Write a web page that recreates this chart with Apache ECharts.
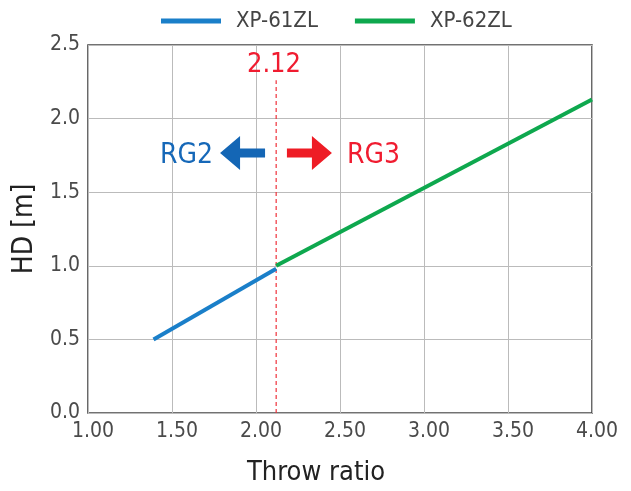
<!DOCTYPE html>
<html><head><meta charset="utf-8">
<script src="https://cdn.jsdelivr.net/npm/echarts@6/dist/echarts.min.js"></script>
<style>html,body{margin:0;padding:0;background:#fff}#c{width:631px;height:491px}</style>
</head><body><div id="c"></div>
<script>
const seriesNames = ['XP-61ZL', 'XP-62ZL'];
const xp61 = [[1.39, 0.50], [2.12, 0.98]];
const xp62 = [[2.12, 1.00], [4.00, 2.13]];
const boundary = 2.12;
const xTicks = [1.0, 1.5, 2.0, 2.5, 3.0, 3.5, 4.0];
const yTicks = [0.0, 0.5, 1.0, 1.5, 2.0, 2.5];

const FONT = '"DejaVu Sans Condensed","Liberation Sans Narrow","Liberation Sans",sans-serif';
const chart = echarts.init(document.getElementById('c'));
const arrowLeft = 'path://M0,17 L20,0 L20,12.5 L45,12.5 L45,21.5 L20,21.5 L20,34 Z';
const arrowRight = 'path://M45,17 L25,0 L25,12.5 L0,12.5 L0,21.5 L25,21.5 L25,34 Z';
const TICK = '#4a4a4a';
chart.setOption({
  animation: false,
  textStyle: {fontFamily: FONT},
  legend: {
    top: 5, left: 156, itemWidth: 60, itemHeight: 5, itemGap: 37,
    icon: 'rect',
    data: seriesNames,
    textStyle: {fontSize: 22, color: '#444', fontFamily: FONT, padding: [0, 0, 0, 10]}
  },
  grid: {left: 88, right: 39, top: 45, bottom: 78, show: true, borderColor: '#444', borderWidth: 1.6,
         containLabel: false, outerBoundsMode: 'none'},
  xAxis: {
    type: 'value', min: xTicks[0], max: xTicks[xTicks.length-1], interval: 0.5,
    name: 'Throw ratio', nameLocation: 'middle', nameGap: 46,
    nameTextStyle: {fontSize: 27, color: '#222', fontFamily: FONT, padding: [0, 48, 0, 0]},
    axisLine: {show: false}, axisTick: {show: false},
    axisLabel: {formatter: v => v.toFixed(2), fontSize: 21, color: TICK, margin: 8, fontFamily: FONT, padding: [0, 0, 0, 10]},
    splitLine: {show: true, lineStyle: {color: '#bbb', width: 1}}
  },
  yAxis: {
    type: 'value', min: yTicks[0], max: yTicks[yTicks.length-1], interval: 0.5,
    name: 'HD [m]', nameLocation: 'middle', nameGap: 45,
    nameTextStyle: {fontSize: 28, color: '#222', fontFamily: FONT},
    axisLine: {show: false}, axisTick: {show: false},
    axisLabel: {formatter: v => v.toFixed(1), fontSize: 21, color: TICK, margin: 8, fontFamily: FONT},
    splitLine: {show: true, lineStyle: {color: '#bbb', width: 1}}
  },
  series: [
    {name: seriesNames[0], type: 'line', data: xp61, showSymbol: false, color: '#1a7fc9',
     lineStyle: {width: 4, color: '#1a7fc9'}, z: 5},
    {name: seriesNames[1], type: 'line', data: xp62, showSymbol: false, color: '#0ea84e',
     lineStyle: {width: 4, color: '#0ea84e'}, z: 5},
    {name: 'boundary', type: 'line', data: [[boundary, 0], [boundary, 2.26]], showSymbol: false,
     lineStyle: {width: 1.2, color: '#f0303a', type: [4, 3]}, z: 4, silent: true},
    {name: 'labels', type: 'scatter', symbolSize: 0, silent: true, z: 6,
     itemStyle: {opacity: 1},
     data: [
       {value: [2.107, 2.364], label: {show: true, position: 'inside', formatter: boundary.toFixed(2), fontSize: 27, color: '#f01c30', fontFamily: FONT}},
       {value: [1.586, 1.746], label: {show: true, position: 'inside', formatter: 'RG2', fontSize: 28, color: '#1668b8', fontFamily: FONT}},
       {value: [2.70, 1.746], label: {show: true, position: 'inside', formatter: 'RG3', fontSize: 28, color: '#f01c30', fontFamily: FONT}}
     ]},
    {name: 'arrows', type: 'scatter', silent: true, z: 6,
     data: [
       {value: [1.92, 1.766], symbol: arrowLeft, symbolSize: [45, 34], itemStyle: {color: '#1466b5', opacity: 1}},
       {value: [2.318, 1.766], symbol: arrowRight, symbolSize: [45, 34], itemStyle: {color: '#ee1c25', opacity: 1}}
     ]}
  ]
});
</script></body></html>
